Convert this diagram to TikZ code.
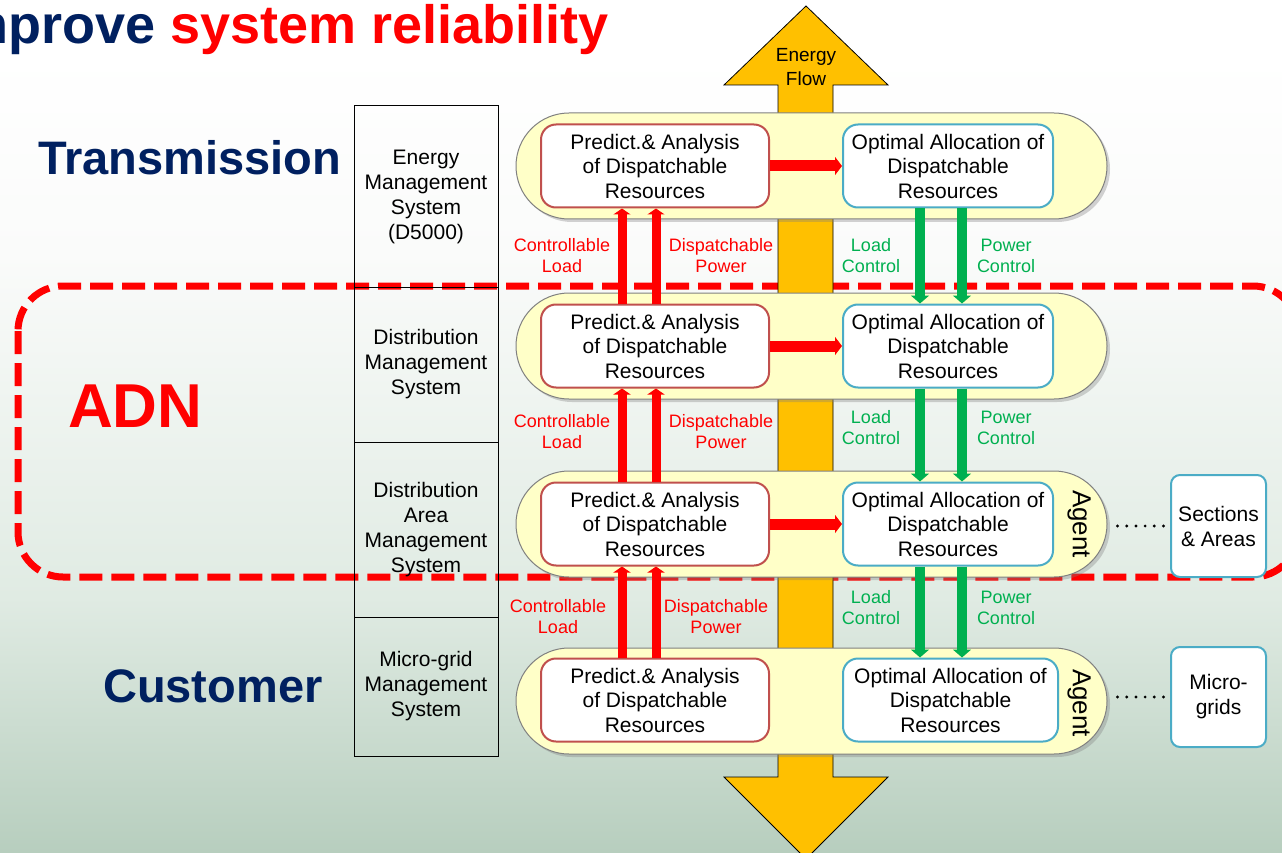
\documentclass[tikz,border=0pt]{standalone}
\usepackage{fontspec}
\setmainfont{Liberation Sans}
\usetikzlibrary{arrows.meta,shadows,positioning}

\definecolor{navy}{RGB}{0,32,96}
\definecolor{predred}{RGB}{192,80,77}
\definecolor{optblue}{RGB}{75,172,198}
\definecolor{ctrlgreen}{RGB}{0,176,80}
\definecolor{flowfill}{RGB}{255,192,0}
\definecolor{capsulefill}{RGB}{255,255,200}
\definecolor{bgtop}{RGB}{250,251,250}
\definecolor{bgmid}{RGB}{224,235,227}
\definecolor{bgbot}{RGB}{183,206,190}

% the shading is stretched so that 25bp..75bp covers the path
\pgfdeclareverticalshading{bgfade}{100bp}{color(0bp)=(bgbot); color(25bp)=(bgbot); color(40bp)=(bgmid); color(60bp)=(bgtop); color(72bp)=(white); color(100bp)=(white)}

\tikzstyle{capsule}=[rectangle,
                     rounded corners=53pt,
                     draw=gray,
                     line width=1pt,
                     fill=capsulefill,
                     minimum width=591pt,
                     minimum height=106pt,
                     drop shadow={shadow xshift=3pt,shadow yshift=-3pt,opacity=0.35}]
\tikzstyle{predict}=[rectangle, rounded corners=15pt, draw=predred, line width=2pt,
fill=white, minimum width=228pt, minimum height=83pt, inner sep=0pt,
align=center, font=\fontsize{21}{24.5}\selectfont]
\tikzstyle{optimal}=[predict, draw=optblue, minimum width=210pt]
\tikzstyle{sysbox}=[rectangle, draw=black, line width=1pt, minimum width=144pt,
outer sep=0pt, align=center, font=\fontsize{21}{25}\selectfont]
\tikzstyle{region}=[rectangle, rounded corners=9pt, draw=optblue, line width=2pt,
fill=white, minimum width=95pt, align=center, font=\fontsize{21}{25}\selectfont]
\tikzstyle{ctrl}=[align=center, font=\fontsize{18}{21}\selectfont]
\tikzstyle{agent}=[rotate=-90, font=\fontsize{26}{28}\selectfont]
\tikzstyle{heading}=[anchor=base west, inner sep=0pt, text=navy]
\tikzstyle{report} = [draw=red, line width=9pt, -{Triangle[width=17pt,length=6pt]}]
\tikzstyle{command} = [draw=ctrlgreen, line width=10pt, -{Triangle[width=18pt,length=8pt]}]
\tikzstyle{pass} = [draw=red, line width=11pt, -{Triangle[width=18pt,length=7pt]}]
\tikzstyle{dots} = [line width=3.2pt, dash pattern=on 0pt off 9.2pt, line cap=round]

\begin{document}
\begin{tikzpicture}[x=1pt,y=-1pt]
      \useasboundingbox (0,0) rectangle (1282,853);
      \shade[shading=bgfade] (0,0) rectangle (1282,853);

      % ADN region, behind everything else
      \draw[red, line width=7pt, dash pattern=on 23pt off 9pt, rounded corners=45pt]
        (18,286) rectangle (1298,577);

      % energy flow, both ways
      \filldraw[fill=flowfill, draw=black, line width=0.8pt]
        (778,85) -- (724,85) -- (806,6) -- (888,85) -- (833,85) -- (833,777)
        -- (888,777) -- (806,859) -- (724,777) -- (778,777) -- cycle;
      \node[align=center, font=\fontsize{19}{24}\selectfont] (flow) at (806,67) {Energy\\Flow};

      \node[heading, font=\fontsize{54}{60}\selectfont\bfseries] (title) at (-55,44)
        {Improve \textcolor{red}{system reliability}};
      \node[heading, font=\fontsize{47}{52}\selectfont\bfseries] (trans) at (38,175) {Transmission};
      \node[heading, font=\fontsize{47}{52}\selectfont\bfseries] (cust) at (103,702) {Customer};
      \node[heading, text=red, font=\fontsize{62}{70}\selectfont\bfseries] (adn) at (68,427) {ADN};

      % management levels
      \node[sysbox, minimum height=181pt] (ems) at (426,196.5) {Energy\\Management\\System\\(D5000)};
      \node[sysbox, minimum height=155pt, below=0pt of ems] (dms) {Distribution\\Management\\System};
      \node[sysbox, minimum height=175pt, below=0pt of dms] (dams) {Distribution\\Area\\Management\\System};
      \node[sysbox, minimum height=139pt, below=0pt of dams] (mgms) {Micro-grid\\Management\\System};

      \node[capsule] (cap1) at (811.5,166) {};
      \node[capsule] (cap2) at (811.5,346) {};
      \node[capsule] (cap3) at (811.5,524) {};
      \node[capsule] (cap4) at (811.5,701) {};

      \node[predict] (pa1) at (655,166) {Predict.\& Analysis\\of Dispatchable\\Resources};
      \node[optimal] (oa1) at (948,166) {Optimal Allocation of\\Dispatchable\\Resources};
      \node[predict] (pa2) at (655,346) {Predict.\& Analysis\\of Dispatchable\\Resources};
      \node[optimal] (oa2) at (948,346) {Optimal Allocation of\\Dispatchable\\Resources};
      \node[predict] (pa3) at (655,524) {Predict.\& Analysis\\of Dispatchable\\Resources};
      \node[optimal] (oa3) at (948,524) {Optimal Allocation of\\Dispatchable\\Resources};
      \node[predict] (pa4) at (655,700) {Predict.\& Analysis\\of Dispatchable\\Resources};
      \node[optimal, minimum width=215pt] (oa4) at (950.5,700) {Optimal Allocation of\\Dispatchable\\Resources};

      \node[agent] (ag3) at (1079,524) {Agent};
      \node[agent] (ag4) at (1079,703) {Agent};

      \node[region, minimum height=102pt] (sec) at (1218.5,526) {Sections\\\& Areas};
      \node[region, minimum height=100pt] (mg) at (1218.5,697) {Micro-\\grids};

      \path [pass] (pa1) -- (oa1);
      \path [pass] (pa2) -- (oa2);
      \path [pass] (pa3) -- (oa3);

      % upward: what the lower level offers
      \path [report] ([xshift=-33pt]pa2.north) -- ([xshift=-33pt]pa1.south);
      \path [report] ([xshift=1pt]pa2.north) -- ([xshift=1pt]pa1.south);
      \path [report] ([xshift=-33pt]pa3.north) -- ([xshift=-33pt]pa2.south);
      \path [report] ([xshift=1pt]pa3.north) -- ([xshift=1pt]pa2.south);
      \path [report] ([xshift=-33pt]pa4.north) -- ([xshift=-33pt]pa3.south);
      \path [report] ([xshift=1pt]pa4.north) -- ([xshift=1pt]pa3.south);

      % downward: what the upper level asks for
      \path [command] ([xshift=-28pt]oa1.south) -- ([xshift=-28pt]oa2.north);
      \path [command] ([xshift=14pt]oa1.south) -- ([xshift=14pt]oa2.north);
      \path [command] ([xshift=-28pt]oa2.south) -- ([xshift=-28pt]oa3.north);
      \path [command] ([xshift=14pt]oa2.south) -- ([xshift=14pt]oa3.north);
      \coordinate (lc) at ([xshift=-28pt]oa3.south);
      \coordinate (pc) at ([xshift=14pt]oa3.south);
      \path [command] (lc) -- (lc |- oa4.north);
      \path [command] (pc) -- (pc |- oa4.north);

      \node[ctrl, text=red] (cl1) at (562,256) {Controllable\\Load};
      \node[ctrl, text=red] (dp1) at (721,256) {Dispatchable\\Power};
      \node[ctrl, text=ctrlgreen] (lc1) at (871,256) {Load\\Control};
      \node[ctrl, text=ctrlgreen] (pc1) at (1006,256) {Power\\Control};
      \node[ctrl, text=red] (cl2) at (562,432) {Controllable\\Load};
      \node[ctrl, text=red] (dp2) at (721,432) {Dispatchable\\Power};
      \node[ctrl, text=ctrlgreen] (lc2) at (871,428) {Load\\Control};
      \node[ctrl, text=ctrlgreen] (pc2) at (1006,428) {Power\\Control};
      \node[ctrl, text=red] (cl3) at (558,617) {Controllable\\Load};
      \node[ctrl, text=red] (dp3) at (716,617) {Dispatchable\\Power};
      \node[ctrl, text=ctrlgreen] (lc3) at (871,608) {Load\\Control};
      \node[ctrl, text=ctrlgreen] (pc3) at (1006,608) {Power\\Control};

      \coordinate (d3) at ([xshift=10pt]cap3.east);
      \coordinate (d4) at ([xshift=10pt]cap4.east);
      \draw[dots] (d3 |- sec.west) -- ([xshift=-5pt]sec.west);
      \draw[dots] (d4 |- mg.west) -- ([xshift=-5pt]mg.west);
\end{tikzpicture}
\end{document}
